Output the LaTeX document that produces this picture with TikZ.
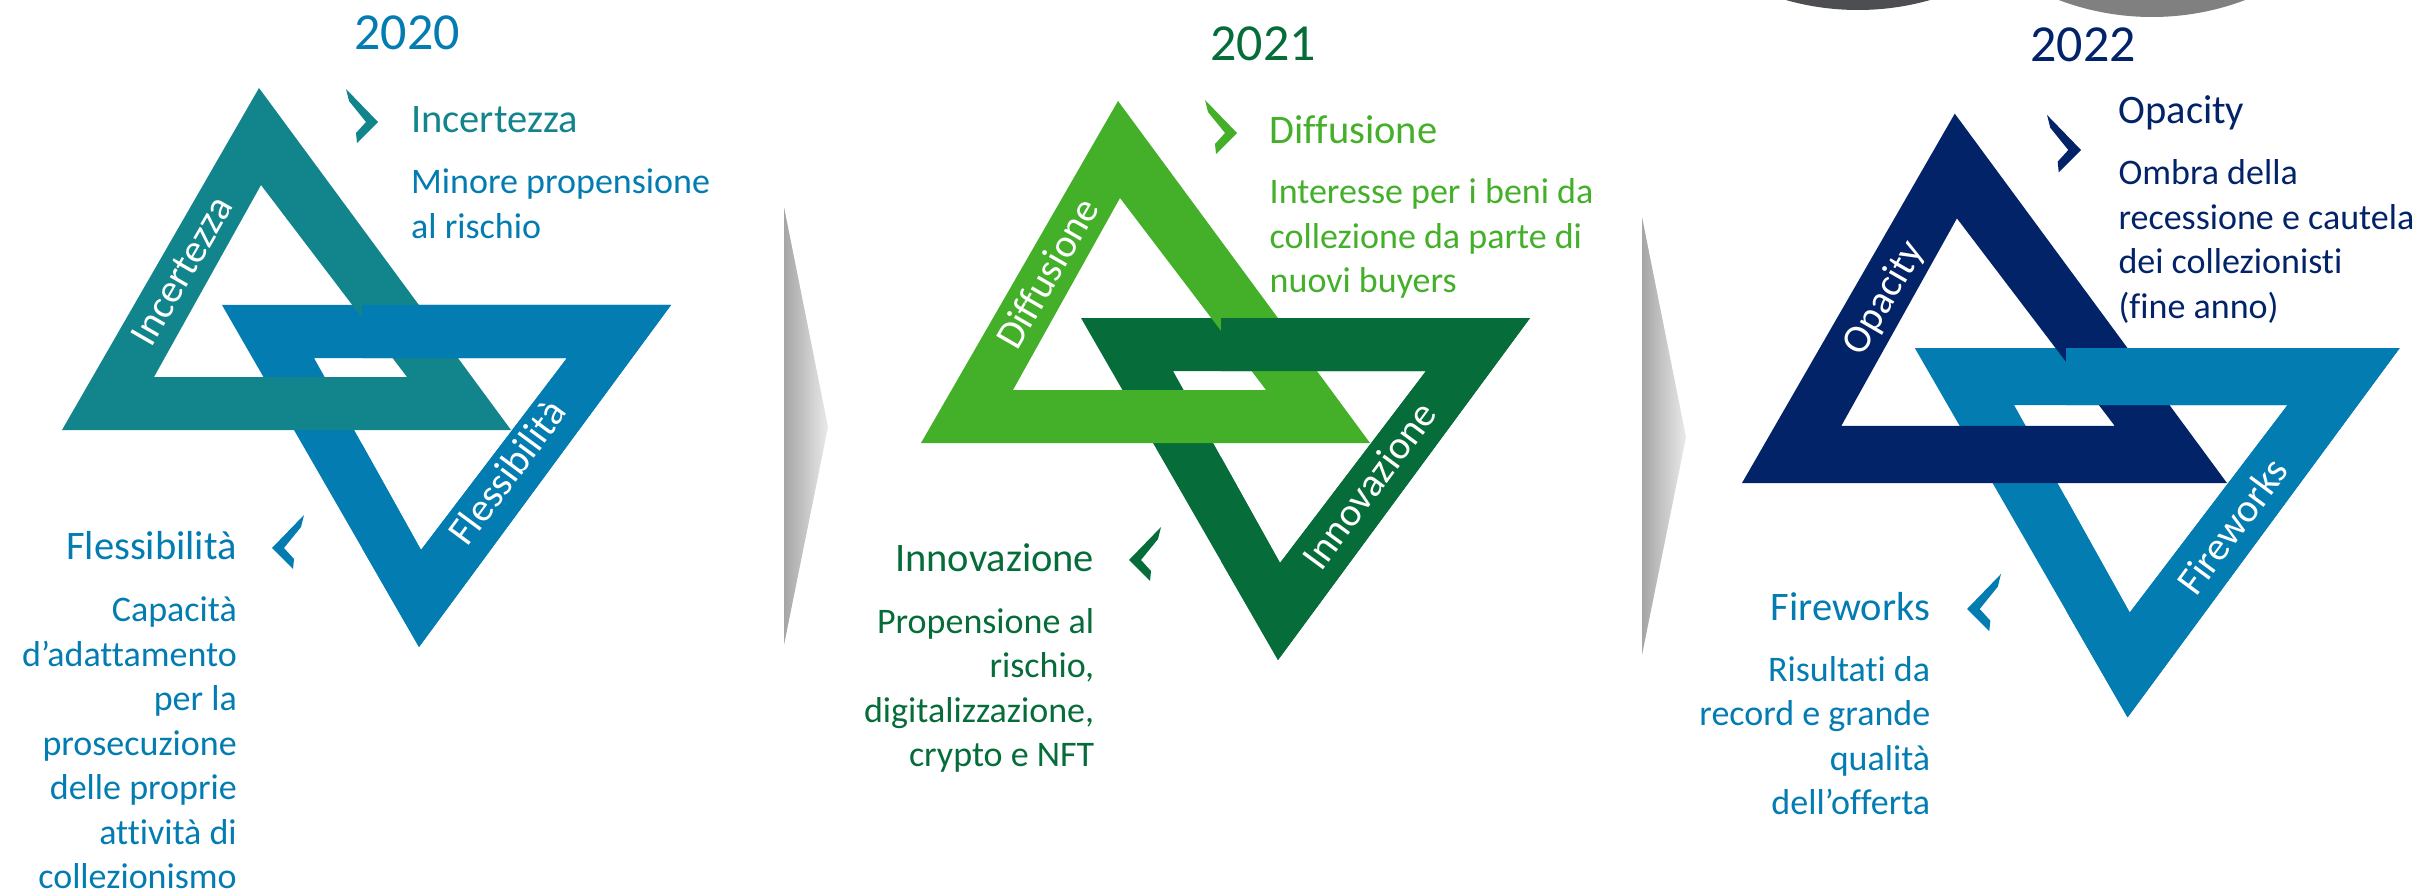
\documentclass[tikz,border=0pt]{standalone}
\usepackage{fontspec}
\setmainfont{Carlito}[Ligatures=NoCommon]
\usetikzlibrary{%
    calc,%
    positioning%
}
\definecolor{tealup}{HTML}{12848C}
\definecolor{bluedown}{HTML}{037CB1}
\definecolor{greenup}{HTML}{44B02A}
\definecolor{greendown}{HTML}{066C39}
\definecolor{navyup}{HTML}{032369}
\definecolor{sepgrayA}{HTML}{A5A5A5}
\definecolor{sepgrayB}{HTML}{EAEAEA}
\definecolor{discdark}{HTML}{4D4E52}
\definecolor{disclight}{HTML}{808080}
\tikzset{%
    yearlabel/.style={font=\fontsize{52}{60}\selectfont,inner sep=0pt,anchor=base},
    headlabel/.style={font=\fontsize{40.5}{48}\selectfont,inner sep=0pt},
    desclabel/.style={font=\fontsize{36}{43}\selectfont,inner sep=0pt},
    leglabel/.style={font=\fontsize{40}{46}\selectfont,text=white,inner sep=0pt}
}

\begin{document}
\begin{tikzpicture}[x=1pt,y=-1pt]
    \useasboundingbox (0,0) rectangle (2425,893);
    % Line spacing of the description texts
    \pgfmathsetmacro{\ls}{44.5};

    % Discs cut off by the upper border
    \fill[discdark] (1858,-254) circle[radius=264pt];
    \fill[disclight] (2152,-246) circle[radius=263pt];

    % Grey separators between the years
    \foreach \gx/\gy in {784/207,1642/217}%
    {%
        \shade[left color=sepgrayA,right color=sepgrayB] (\gx,\gy) -- ++(44,220) -- ++(-44,218) -- cycle;
    }

    % Interlocked triangles of each year, origin at the lower left corner
    \foreach \n/\bx/\by/\s/\cu/\cd/\lt/\lx/\ly/\rt/\rx/\ry in {%
        1/62/430/1/tealup/bluedown/Incertezza/120/-159/Flessibilità/445/42,%
        2/921/443/1/greenup/greendown/Diffusione/126/-170/Innovazione/448/42,%
        3/1742/483/1.08/navyup/bluedown/Opacity/132/-171/Fireworks/454/40}%
    {%
        \begin{scope}[shift={(\bx,\by)},scale=\s]
            \coordinate (base\n) at (0,0);
            % Downward triangle
            \fill[\cd,even odd rule] (160,-125) -- (609,-125) -- (357,217) -- cycle
                (252,-72) -- (505,-72) -- (359,120) -- cycle;
            % Upward triangle, its base runs over the downward one
            \fill[\cu,even odd rule] (0,0) -- (449,0) -- (197,-342) -- cycle
                (92,-53) -- (345,-53) -- (199,-245) -- cycle;
            % Right part of the downward triangle lies on top again
            \begin{scope}
                \clip (300,-130) rectangle (620,220);
                \fill[\cd,even odd rule] (160,-125) -- (609,-125) -- (357,217) -- cycle
                    (252,-72) -- (505,-72) -- (359,120) -- cycle;
            \end{scope}
            % Names written along the legs
            \node[leglabel,rotate=60] (leg\n a) at (\lx,\ly) {\lt};
            \node[leglabel,rotate=53.5] (leg\n b) at (\rx,\ry) {\rt};
        \end{scope}
    }

    % Chevrons in front of the headings
    \foreach \cx/\cy/\dir/\s/\c [count=\m] in {%
        378/122/1/1/tealup, 272/548/-1/1/bluedown,%
        1237/133/1/1/greenup, 1129/560/-1/1/greendown,%
        2081/150/1/1.06/navyup, 1967/609/-1/1.06/bluedown}%
    {%
        \fill[\c,shift={(\cx,\cy)},xscale=\dir*\s,yscale=\s] (0,0) coordinate (chev\m)
            -- (-21,21) -- (-22,11) -- (-12,0) -- (-29,-21) -- (-32,-33) -- cycle;
    }

    % Years
    \node[yearlabel,text=bluedown] (year1) at (407,50) {2020};
    \node[yearlabel,text=greendown] (year2) at (1263,61) {2021};
    \node[yearlabel,text=navyup] (year3) at (2083,62) {2022};

    % Headings
    \node[headlabel,anchor=base west,text=tealup] (headinc) at (411,133) {Incertezza};
    \node[headlabel,anchor=base east,text=bluedown] (headfle) at (237,559) {Flessibilità};
    \node[headlabel,anchor=base west,text=greenup] (headdif) at (1269.5,144) {Diffusione};
    \node[headlabel,anchor=base east,text=greendown] (headinn) at (1094.4,571.7) {Innovazione};
    \node[headlabel,anchor=base west,text=navyup] (headopa) at (2118.3,123.3) {Opacity};
    \node[headlabel,anchor=base east,text=bluedown] (headfir) at (1930.4,620) {Fireworks};

    % Descriptions, one node per line
    \foreach \t [count=\k] in {Minore propensione,al rischio}%
    {%
        \node[desclabel,anchor=base west,text=bluedown] (descinc\k) at (411,{194+\ls*(\k-1)}) {\t};
    }
    \foreach \t [count=\k] in {Capacità,d’adattamento,per la,prosecuzione,delle proprie,attività di,collezionismo}%
    {%
        \node[desclabel,anchor=base east,text=bluedown] (descfle\k) at (237,{621.7+\ls*(\k-1)}) {\t};
    }
    \foreach \t [count=\k] in {Interesse per i beni da,collezione da parte di,nuovi buyers}%
    {%
        \node[desclabel,anchor=base west,text=greenup] (descdif\k) at (1269.5,{204+\ls*(\k-1)}) {\t};
    }
    \foreach \t [count=\k] in {Propensione al,{rischio,},{digitalizzazione,},crypto e NFT}%
    {%
        \node[desclabel,anchor=base east,text=greendown] (descinn\k) at (1094.4,{633.3+\ls*(\k-1)}) {\t};
    }
    \foreach \t [count=\k] in {Ombra della,recessione e cautela,dei collezionisti,(fine anno)}%
    {%
        \node[desclabel,anchor=base west,text=navyup] (descopa\k) at (2118.3,{185+\ls*(\k-1)}) {\t};
    }
    \foreach \t [count=\k] in {Risultati da,record e grande,qualità,dell’offerta}%
    {%
        \node[desclabel,anchor=base east,text=bluedown] (descfir\k) at (1930.4,{681+\ls*(\k-1)}) {\t};
    }
\end{tikzpicture}
\end{document}
